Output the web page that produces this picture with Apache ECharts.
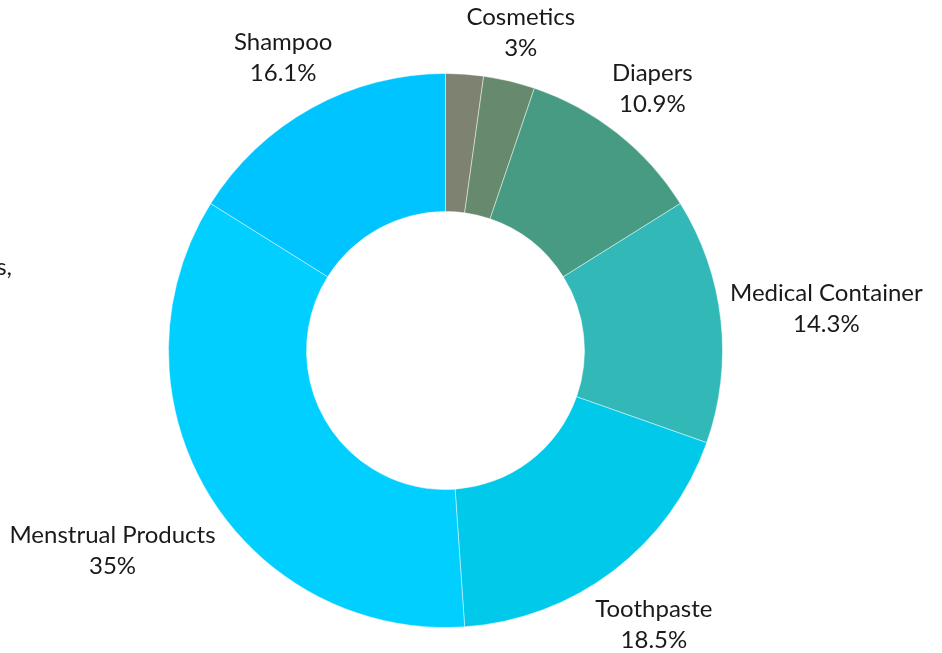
<!DOCTYPE html>
<html>
<head>
<meta charset="utf-8">
<script src="https://cdn.jsdelivr.net/npm/echarts@6/dist/echarts.min.js"></script>
<style>
  html, body { margin: 0; padding: 0; background: #ffffff; }
  #chart { width: 942px; height: 653px; }
</style>
</head>
<body>
<div id="chart"></div>
<script>
// Share of packaging by application (percent), clockwise from 12 o'clock
const categories = ['Other', 'Cosmetics', 'Diapers', 'Medical Container', 'Toothpaste', 'Menstrual Products', 'Shampoo'];
const shares = [2.2, 3, 10.9, 14.3, 18.5, 35, 16.1];
const colors = ['#7e8271', '#678a6e', '#479b83', '#33b8b8', '#00c9e9', '#00cfff', '#00c4ff'];
const hiddenLabels = ['Other'];

const CX = 445.5, CY = 350.5, R_IN = 139, R_OUT = 277, GAP = 7;

const total = shares.reduce((a, b) => a + b, 0);
const cumulative = [];
shares.reduce((acc, v, i) => { cumulative[i] = acc; return acc + v; }, 0);

const chart = echarts.init(document.getElementById('chart'), null, { renderer: 'canvas' });

chart.setOption({
  animation: false,
  backgroundColor: '#ffffff',
  graphic: [{
    type: 'text',
    right: 930,
    top: 255,
    style: { text: 's,', font: '24px Lato', fill: '#1a1a1a', textAlign: 'right' }
  }],
  series: [{
    type: 'pie',
    center: [CX, CY],
    radius: [R_IN, R_OUT],
    startAngle: 90,
    clockwise: true,
    avoidLabelOverlap: false,
    itemStyle: { borderColor: 'rgba(255,255,255,0.45)', borderWidth: 1 },
    emphasis: { disabled: true },
    label: {
      show: true,
      position: 'outside',
      formatter: '{b}\n{c}%',
      fontFamily: 'Lato',
      fontSize: 24,
      lineHeight: 31,
      color: '#1a1a1a',
      align: 'center'
    },
    labelLine: { show: false },
    // centre each label on its slice's middle ray, just clear of the outer rim
    labelLayout: function (p) {
      const i = p.dataIndex;
      const mid = (cumulative[i] + shares[i] / 2) / total * Math.PI * 2;
      const dx = Math.sin(mid), dy = -Math.cos(mid);
      const w = p.labelRect.width, h = p.labelRect.height;
      const d = R_OUT + GAP + Math.abs(dx) * w / 2 + Math.abs(dy) * h / 2;
      return { x: CX + dx * d, y: CY + dy * d, align: 'center', verticalAlign: 'middle' };
    },
    data: categories.map((name, i) => ({
      name: name,
      value: shares[i],
      itemStyle: { color: colors[i] },
      label: { show: hiddenLabels.indexOf(name) < 0 }
    }))
  }]
});
</script>
</body>
</html>
